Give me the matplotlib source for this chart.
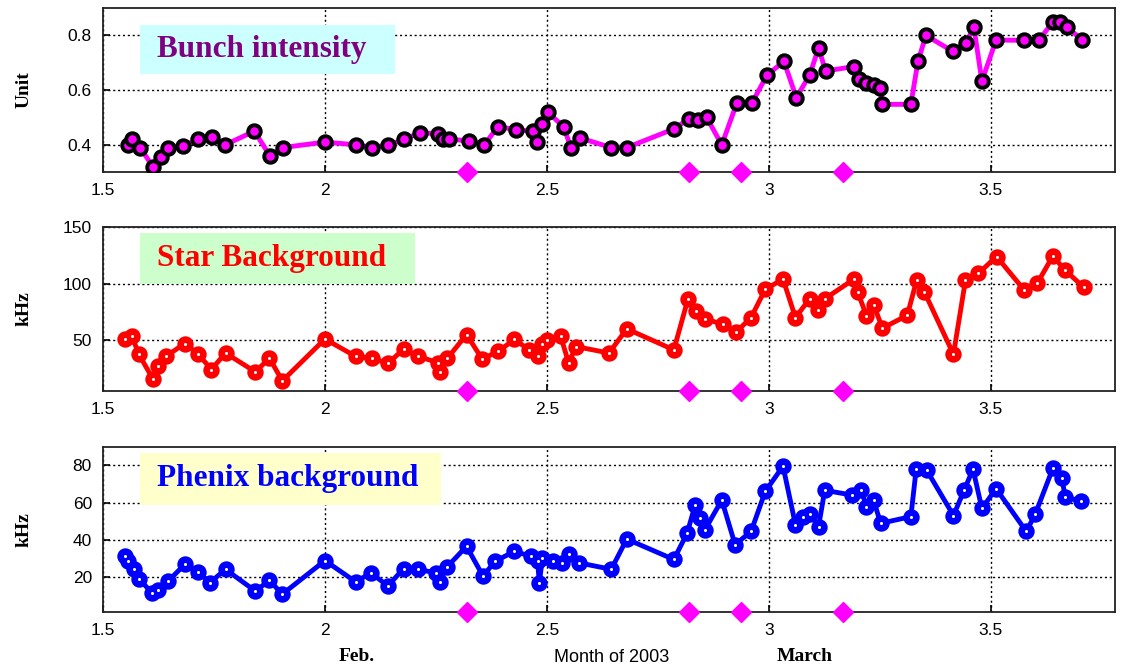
import matplotlib
matplotlib.use("Agg")
import matplotlib.pyplot as plt
from matplotlib.patches import Rectangle

# time axis in months of 2003 (1.5 = mid January ... 3.7 = late March)
bunch_x = [1.556, 1.565, 1.584, 1.612, 1.63, 1.647, 1.68, 1.713, 1.745, 1.775,
           1.841, 1.876, 1.905, 2.0, 2.071, 2.107, 2.143, 2.179, 2.214, 2.254,
           2.265, 2.28, 2.324, 2.359, 2.39, 2.43, 2.468, 2.477, 2.488, 2.502,
           2.538, 2.554, 2.575, 2.645, 2.68, 2.786, 2.82, 2.84, 2.86, 2.894,
           2.928, 2.962, 2.996, 3.034, 3.062, 3.092, 3.112, 3.128, 3.192, 3.204,
           3.22, 3.236, 3.25, 3.256, 3.32, 3.336, 3.354, 3.414, 3.444, 3.462,
           3.48, 3.512, 3.576, 3.608, 3.64, 3.656, 3.672, 3.706]
bunch_y = [0.40, 0.42, 0.39, 0.32, 0.355, 0.39, 0.395, 0.42, 0.43, 0.40,
           0.45, 0.36, 0.39, 0.41, 0.40, 0.39, 0.40, 0.42, 0.445, 0.44,
           0.42, 0.42, 0.415, 0.40, 0.467, 0.455, 0.45, 0.41, 0.475, 0.52,
           0.465, 0.39, 0.425, 0.39, 0.39, 0.458, 0.495, 0.49, 0.50, 0.40,
           0.553, 0.553, 0.655, 0.705, 0.573, 0.655, 0.754, 0.67, 0.686, 0.64,
           0.625, 0.62, 0.606, 0.548, 0.548, 0.705, 0.80, 0.742, 0.773, 0.83,
           0.633, 0.783, 0.782, 0.782, 0.849, 0.85, 0.83, 0.783]

star_x = [1.55, 1.565, 1.58, 1.612, 1.625, 1.643, 1.684, 1.714, 1.744, 1.776,
          1.843, 1.875, 1.904, 2.0, 2.069, 2.106, 2.142, 2.177, 2.21, 2.255,
          2.259, 2.276, 2.319, 2.354, 2.39, 2.427, 2.46, 2.479, 2.49, 2.501,
          2.531, 2.549, 2.566, 2.64, 2.68, 2.786, 2.818, 2.836, 2.856, 2.896,
          2.926, 2.96, 2.992, 3.032, 3.06, 3.092, 3.11, 3.126, 3.192, 3.2,
          3.22, 3.236, 3.256, 3.312, 3.333, 3.35, 3.416, 3.443, 3.472, 3.513,
          3.576, 3.605, 3.64, 3.667, 3.709]
star_y = [51, 54, 38, 16, 27, 36, 47, 38, 24, 38.6,
          22, 34, 14, 51, 35.7, 34, 29.4, 42, 35.7, 30,
          21.4, 34, 55, 33.4, 40, 50.6, 41.4, 35.7, 47, 50,
          53.4, 30, 44.3, 38.6, 60, 41.4, 86.6, 76, 68.6, 64.3,
          57, 70, 95, 104, 70, 86.6, 77, 86.6, 104, 93,
          71.4, 81.4, 60.6, 72, 103, 93, 37.5, 103, 109, 124,
          94, 100.5, 124.5, 112, 97]

phenix_x = [1.55, 1.557, 1.569, 1.58, 1.61, 1.625, 1.647, 1.684, 1.714, 1.741,
            1.776, 1.843, 1.875, 1.904, 2.0, 2.069, 2.104, 2.142, 2.177, 2.21,
            2.251, 2.259, 2.274, 2.319, 2.356, 2.384, 2.427, 2.464, 2.479, 2.483,
            2.49, 2.513, 2.535, 2.55, 2.572, 2.645, 2.68, 2.786, 2.816, 2.834,
            2.846, 2.856, 2.894, 2.924, 2.96, 2.992, 3.032, 3.06, 3.076, 3.092,
            3.112, 3.126, 3.188, 3.208, 3.22, 3.236, 3.252, 3.32, 3.332, 3.356,
            3.416, 3.44, 3.46, 3.48, 3.512, 3.58, 3.6, 3.64, 3.66, 3.668, 3.704]
phenix_y = [31, 28.4, 24, 19, 11.5, 13, 17.7, 26.6, 22.7, 16.8,
            24, 12.3, 18, 10.6, 28.7, 17.3, 22, 15, 24.4, 24,
            22, 17.3, 25, 36.4, 20.4, 28.4, 33.7, 31, 28.4, 16.8,
            30, 28.4, 27.5, 32, 27.5, 24, 40.3, 29.3, 43.5, 58.6,
            51.5, 45.3, 61.3, 37.3, 44.4, 66, 79.6, 48, 52.4, 54,
            47, 66.6, 64, 67, 57.7, 61.3, 48.8, 52.4, 78, 77.3,
            53, 66.6, 78, 56.8, 67.5, 44.4, 53.6, 78.5, 73, 63, 60.7]

# dates of the magenta markers on the bottom of every panel
event_x = [2.32, 2.82, 2.937, 3.167]

panels = [
    dict(x=bunch_x, y=bunch_y, ylim=(0.3, 0.9), yticks=[0.4, 0.6, 0.8],
         yticklabels=["0.4", "0.6", "0.8"], ylabel="Unit",
         line="#ff00ff", mec="black", mfc="#ff00ff", dot=False,
         title="Bunch intensity", tcolor="#800080", tbg="#ccffff",
         box=(0.0366, 0.598, 0.252, 0.298),
         rect=[0.0918, 0.743, 0.902, 0.245]),
    dict(x=star_x, y=star_y, ylim=(5, 150), yticks=[50, 100, 150],
         yticklabels=["50", "100", "150"], ylabel="kHz",
         line="#ff0000", mec="#ff0000", mfc="#ff0000", dot=True,
         title="Star Background", tcolor="#ff0000", tbg="#ccffcc",
         box=(0.0366, 0.652, 0.272, 0.311),
         rect=[0.0918, 0.4164, 0.902, 0.2446]),
    dict(x=phenix_x, y=phenix_y, ylim=(1, 90), yticks=[20, 40, 60, 80],
         yticklabels=["20", "40", "60", "80"], ylabel="kHz",
         line="#0000ff", mec="#0000ff", mfc="#0000ff", dot=True,
         title="Phenix background", tcolor="#0000ff", tbg="#ffffcc",
         box=(0.0366, 0.648, 0.297, 0.316),
         rect=[0.0918, 0.0866, 0.902, 0.2464]),
]

serif = "Liberation Serif"
sans = "Liberation Sans"

fig = plt.figure(figsize=(11.22, 6.70), dpi=100)
fig.patch.set_facecolor("white")

for p in panels:
    ax = fig.add_axes(p["rect"])
    ax.plot(p["x"], p["y"], "-", color=p["line"], lw=3.5, zorder=3)
    ax.plot(p["x"], p["y"], "o", ms=9, mew=2.8, mec=p["mec"], mfc=p["mfc"],
            zorder=4)
    if p["dot"]:
        ax.plot(p["x"], p["y"], "o", ms=2.2, mew=0, mfc="white", zorder=4.5)
    ylo = p["ylim"][0]
    ax.plot(event_x, [ylo] * len(event_x), "D", ms=10, color="#ff00ff",
            clip_on=False, zorder=5)

    ax.set_xlim(1.5, 3.78)
    ax.set_ylim(*p["ylim"])
    ax.set_xticks([1.5, 2, 2.5, 3, 3.5])
    ax.set_xticklabels(["1.5", "2", "2.5", "3", "3.5"])
    ax.set_yticks(p["yticks"])
    ax.set_yticklabels(p["yticklabels"])
    ax.tick_params(direction="in", length=5, width=1.2, labelsize=12.5,
                   pad=8, top=False, right=False)
    for lab in ax.get_xticklabels() + ax.get_yticklabels():
        lab.set_fontfamily(sans)
    ax.grid(True, color="black", linestyle=(0, (1.5, 2)), linewidth=1.0)
    for s in ax.spines.values():
        s.set_linewidth(1.3)
        s.set_color("#222222")

    ax.set_ylabel(p["ylabel"], fontsize=14, fontweight="bold",
                  fontfamily=serif)
    ax.yaxis.set_label_coords(-0.070, 0.5)

    bx, by, bw, bh = p["box"]
    ax.add_patch(Rectangle((bx, by), bw, bh, transform=ax.transAxes,
                           facecolor=p["tbg"], edgecolor="none", zorder=6))
    ax.text(bx + 0.017, by + bh / 2, p["title"], transform=ax.transAxes,
            fontsize=22.5, fontweight="bold", fontfamily=serif,
            color=p["tcolor"], va="center", ha="left", zorder=7)

fig.text(0.545, 0.018, "Month of 2003", fontsize=13, fontfamily=sans,
         ha="center", va="center")
fig.text(0.318, 0.020, "Feb.", fontsize=14, fontweight="bold",
         fontfamily=serif, ha="center", va="center")
fig.text(0.717, 0.020, "March", fontsize=14, fontweight="bold",
         fontfamily=serif, ha="center", va="center")

fig.savefig("out.png", dpi=100)
